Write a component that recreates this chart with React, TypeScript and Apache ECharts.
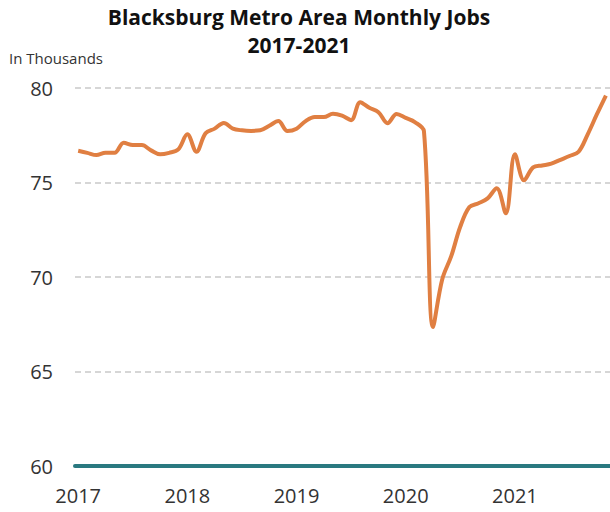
import React, { useEffect, useRef } from "react";
import * as echarts from "echarts";

const titleLine1 = "Blacksburg Metro Area Monthly Jobs";
const titleLine2 = "2017-2021";
const unitLabel = "In Thousands";
const yearLabels = ["2017", "2018", "2019", "2020", "2021"];
const yearStartIndex = [0, 12, 24, 36, 48];
// Monthly jobs (thousands), Jan 2017 – Nov 2021
const jobs = [
  76.68, 76.57, 76.45, 76.57, 76.57, 77.1, 76.98, 76.98, 76.7, 76.49, 76.57, 76.75,
  77.55, 76.63, 77.6, 77.85, 78.15, 77.85, 77.76, 77.73, 77.76, 78.0, 78.25, 77.73,
  77.85, 78.25, 78.46, 78.46, 78.64, 78.54, 78.3, 79.25, 78.95, 78.72, 78.14, 78.63,
  78.42, 78.2, 77.72, 67.35, 69.86, 71.1, 72.67, 73.7, 73.9, 74.16, 74.7, 73.37,
  76.5, 75.12, 75.8, 75.9, 76.0, 76.2, 76.4, 76.63, 77.55, 78.6, 79.6,
];
const yTicks = [60, 65, 70, 75, 80];

export default function App() {
  const ref = useRef<HTMLDivElement>(null);
  useEffect(() => {
    document.body.style.margin = "0";
    if (!ref.current) return;
    const chart = echarts.init(ref.current, null, { renderer: "svg" });
    const font = "'Open Sans', sans-serif";
    const titleStyle = {
      fontFamily: font,
      fontSize: 21,
      fontWeight: "bold",
      fill: "#111",
      textAlign: "center",
      textVerticalAlign: "middle",
    };
    chart.setOption({
      animation: false,
      backgroundColor: "#ffffff",
      textStyle: { fontFamily: font },
      graphic: [
        { type: "text", x: 299, y: 17, style: { ...titleStyle, text: titleLine1 } },
        { type: "text", x: 299, y: 45, style: { ...titleStyle, text: titleLine2 } },
        {
          type: "text",
          left: 9,
          top: 50,
          style: { text: unitLabel, fontFamily: font, fontSize: 15, fill: "#333" },
        },
      ],
      grid: { left: 75, right: 0, top: 88, bottom: 46, containLabel: false },
      xAxis: {
        type: "value",
        min: -0.35,
        max: 58.45,
        axisLine: { show: true, onZero: false, lineStyle: { color: "#2a7980", width: 4 } },
        axisTick: { show: false },
        splitLine: { show: false },
        axisLabel: {
          customValues: yearStartIndex,
          formatter: (v: number) => yearLabels[yearStartIndex.indexOf(Math.round(v))] ?? "",
          fontSize: 20,
          color: "#333",
          margin: 19,
          fontFamily: font,
        },
      },
      yAxis: {
        type: "value",
        min: 60,
        max: 80,
        interval: 5,
        axisLine: { show: false },
        axisTick: { show: false },
        axisLabel: {
          fontSize: 20,
          color: "#333",
          margin: 22,
          fontFamily: font,
          formatter: (v: number) => (yTicks.includes(v) ? String(v) : ""),
        },
        splitLine: {
          show: true,
          lineStyle: { color: "#d6d6d6", width: 2, type: [6, 4] },
        },
      },
      series: [
        {
          type: "line",
          data: jobs.map((v, i) => [i, v]),
          smooth: 0.35,
          showSymbol: false,
          symbol: "none",
          lineStyle: { color: "#e07f42", width: 4 },
        },
      ],
    });
    return () => chart.dispose();
  }, []);
  return <div ref={ref} style={{ width: 610, height: 512 }} />;
}
